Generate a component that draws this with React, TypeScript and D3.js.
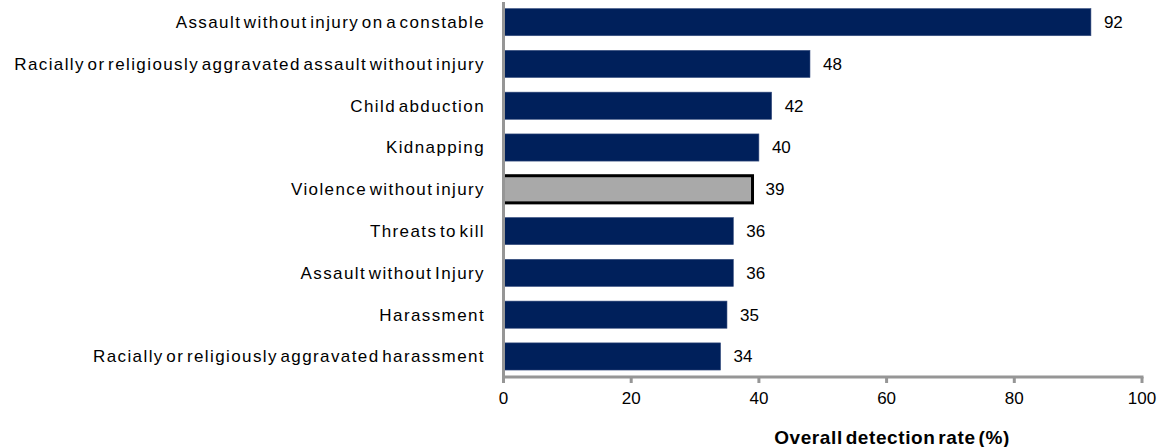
import React from "react";
import * as d3 from "d3";

const categories = [
  "Assault without injury on a constable",
  "Racially or religiously aggravated assault without injury",
  "Child abduction",
  "Kidnapping",
  "Violence without injury",
  "Threats to kill ",
  "Assault without Injury",
  "Harassment",
  "Racially or religiously aggravated harassment",
];
const values = [92, 48, 42, 40, 39, 36, 36, 35, 34];
const highlighted = ["Violence without injury"];
const xTicks = [0, 20, 40, 60, 80, 100];
const axisTitle = "Overall detection rate (%)";

export default function App() {
  const W = 1158, H = 447;
  const x0 = 503.5, x1 = 1142;
  const yBottom = 377;
  const x = d3.scaleLinear().domain([0, 100]).range([x0, x1]);
  const y = d3.scaleBand<string>().domain(categories).range([0.2, 378.4]).paddingInner(0.35).paddingOuter(0.2);
  const font = "'Liberation Sans', Arial, sans-serif";
  return (
    <svg width={W} height={H} style={{ position: "absolute", left: 0, top: 0, fontFamily: font }}>
      {categories.map((c, i) => {
        const hi = highlighted.includes(c);
        const by = y(c)!;
        const bh = y.bandwidth();
        return (
          <g key={c}>
            <rect
              x={x(0)}
              y={by}
              width={x(values[i]) - x(0)}
              height={bh}
              fill={hi ? "#a9a9a9" : "#00205b"}
              stroke={hi ? "#000" : "#3a5080"}
              strokeWidth={hi ? 3 : 0.6}
            />
            <text x={x(values[i]) + 13} y={by + bh / 2} dy="0.35em" fontSize={17} fill="#000">
              {values[i]}
            </text>
            <text x={485} y={by + bh / 2} dy="0.35em" fontSize={17} textAnchor="end" fill="#000" letterSpacing={1.4} wordSpacing={-3.5}>
              {c}
            </text>
          </g>
        );
      })}
      <line x1={x0} x2={x0} y1={2} y2={yBottom} stroke="#969696" strokeWidth={3} />
      <line x1={x0 - 1.5} x2={x1 + 1.5} y1={yBottom} y2={yBottom} stroke="#969696" strokeWidth={3} />
      {xTicks.map((t) => (
        <g key={t}>
          <line x1={x(t)} x2={x(t)} y1={yBottom} y2={yBottom + 6} stroke="#969696" strokeWidth={3} />
          <text x={x(t)} y={398} dy="0.35em" fontSize={17} textAnchor="middle" fill="#000">
            {t}
          </text>
        </g>
      ))}
      <text x={892} y={437} dy="0.35em" fontSize={19} fontWeight="bold" textAnchor="middle" fill="#000" letterSpacing={0.6} wordSpacing={-3}>
        {axisTitle}
      </text>
    </svg>
  );
}
